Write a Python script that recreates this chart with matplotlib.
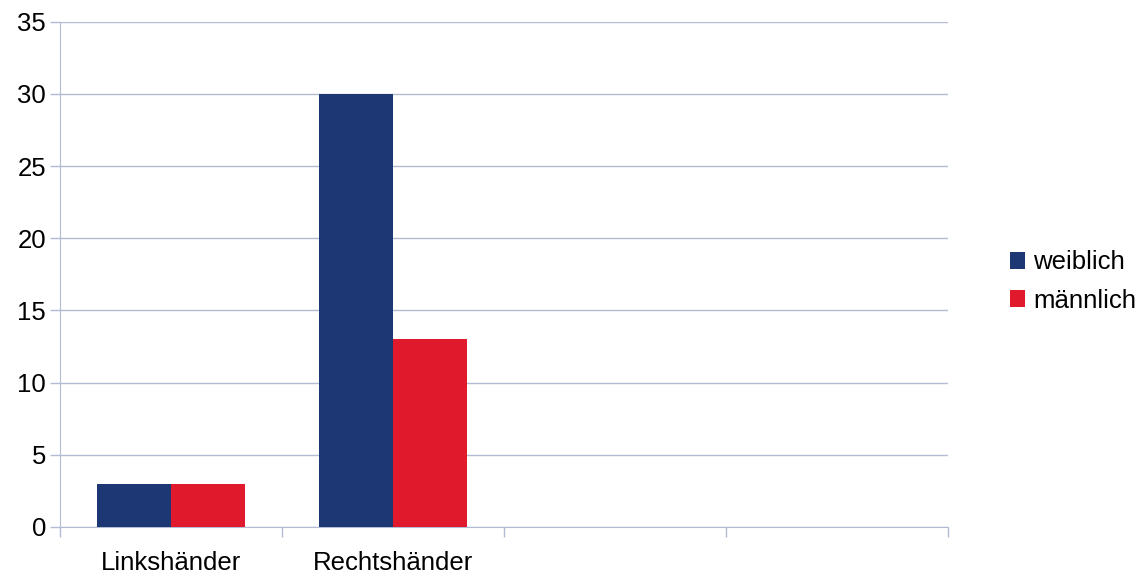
import numpy as np
import matplotlib.pyplot as plt

plt.rcParams['font.family'] = ['Liberation Sans', 'DejaVu Sans']

categories = ['Linkshänder', 'Rechtshänder', '', '']
weiblich = [3, 30, 0, 0]
maennlich = [3, 13, 0, 0]
series_labels = ['weiblich', 'männlich']

blue = '#1c3773'
red = '#e0192c'
grid_color = '#b4bcd4'

fig = plt.figure(figsize=(11.41, 5.80), dpi=100)
ax = fig.add_axes([0.0526, 0.0914, 0.778, 0.871])

x = np.arange(len(categories))
w = 0.333
ax.bar(x - w / 2, weiblich, w, color=blue, label=series_labels[0], zorder=3)
ax.bar(x + w / 2, maennlich, w, color=red, label=series_labels[1], zorder=3)

ax.set_xlim(-0.5, len(categories) - 0.5)
ax.set_ylim(0, 35)
ax.set_yticks(np.arange(0, 36, 5))

# category boundaries as ticks, labels centred in each slot
ax.set_xticks(np.arange(len(categories) + 1) - 0.5)
ax.set_xticklabels([])
ax.set_xticks(x, minor=True)
ax.set_xticklabels(categories, minor=True)
ax.tick_params(axis='x', which='minor', length=0, pad=17, labelsize=18.5)
ax.tick_params(axis='x', which='major', length=7, color=grid_color, width=1)
ax.tick_params(axis='y', length=7, color=grid_color, width=1, labelsize=18.5, pad=3)

ax.grid(axis='y', color=grid_color, linewidth=1, zorder=0)
for s in ['top', 'right']:
    ax.spines[s].set_visible(False)
for s in ['left', 'bottom']:
    ax.spines[s].set_color(grid_color)
    ax.spines[s].set_zorder(2)

ax.legend(loc='center left', bbox_to_anchor=(1.044, 0.486), frameon=False,
          fontsize=18.5, handlelength=0.6, handleheight=0.6, handletextpad=0.3,
          labelspacing=0.55)

fig.savefig('out.png', dpi=100)
